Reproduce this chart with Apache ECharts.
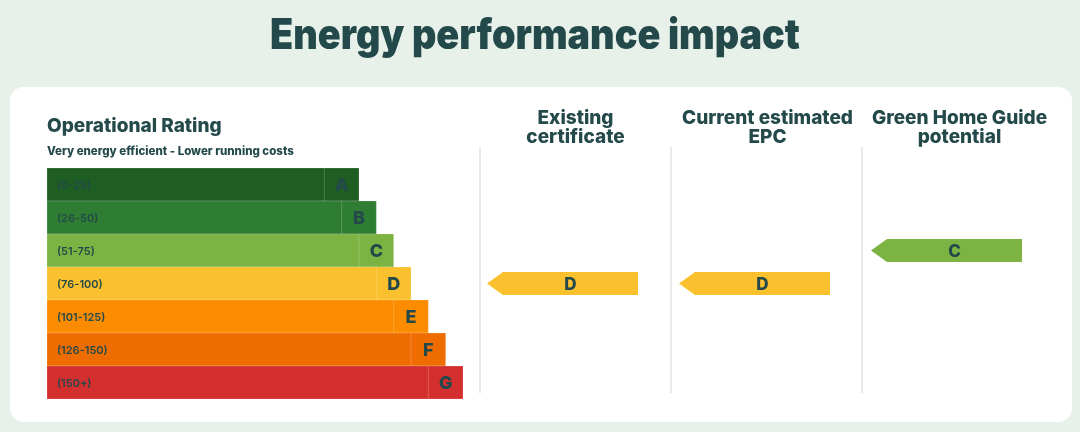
<!DOCTYPE html>
<html>
<head>
<meta charset="utf-8">
<script src="https://cdn.jsdelivr.net/npm/echarts@6/dist/echarts.min.js"></script>
<style>
html,body{margin:0;padding:0;background:#e7f1ea;}
#chart{width:1080px;height:432px;}
</style>
</head>
<body>
<div id="chart"></div>
<script>
// ---- data ----
const chartTitle = 'Energy performance impact';
const ratingTitle = 'Operational Rating';
const ratingSubtitle = 'Very energy efficient - Lower running costs';
const bandLetters = ['A', 'B', 'C', 'D', 'E', 'F', 'G'];
const bandRanges = ['(0-25)', '(26-50)', '(51-75)', '(76-100)', '(101-125)', '(126-150)', '(150+)'];
const bandLengths = [18, 19, 20, 21, 22, 23, 24];
const columnTitles = ['Existing\ncertificate', 'Current estimated\nEPC', 'Green Home Guide\npotential'];
const columnRatings = ['D', 'D', 'C'];

// ---- styles ----
const bandColors = ['#1e5e22', '#2e7d32', '#7cb342', '#fbc02d', '#fb8c00', '#ef6c00', '#d32f2f'];
const ink = '#23494a';
const font = 'Inter';
const letterCellUnits = 2;
const maxUnits = 24;

const chart = echarts.init(document.getElementById('chart'), null, {renderer: 'canvas'});

const colLefts = [487, 679, 871];
const colWidth = 151;
const dividerXs = [480, 671, 862];

const grids = [{left: 47, top: 168, width: 416, height: 231}];
colLefts.forEach(l => grids.push({left: l, top: 168, width: colWidth, height: 231}));

const xAxes = grids.map((g, i) => ({
  type: 'value', gridIndex: i, min: 0, max: i === 0 ? maxUnits : 1, show: false
}));
const yAxes = grids.map((g, i) => ({
  type: 'category', gridIndex: i, data: bandLetters, inverse: true, show: false
}));

const barSeries = {
  type: 'custom',
  xAxisIndex: 0, yAxisIndex: 0,
  data: bandLengths.map((len, i) => [len, i]),
  encode: {x: 0, y: 1},
  renderItem: function (params, api) {
    const len = api.value(0);
    const row = api.value(1);
    const h = api.size([0, 1])[1];
    const s = api.coord([0, row]);
    const e = api.coord([len, row]);
    const d = api.coord([len - letterCellUnits, row]);
    const top = s[1] - h / 2;
    return {
      type: 'group',
      children: [
        {type: 'rect', shape: {x: s[0], y: top, width: e[0] - s[0], height: h},
          style: {fill: bandColors[row], stroke: 'rgba(255,255,255,0.18)', lineWidth: 1}},
        {type: 'line', shape: {x1: d[0], y1: top, x2: d[0], y2: top + h},
          style: {stroke: 'rgba(255,255,255,0.2)', lineWidth: 1}},
        {type: 'text', x: s[0] + 10, y: s[1] + 1,
          style: {text: bandRanges[row], fill: ink, font: '600 11px ' + font, verticalAlign: 'middle', align: 'left'}},
        {type: 'text', x: (d[0] + e[0]) / 2, y: s[1] + 1,
          style: {text: bandLetters[row], fill: ink, font: '800 18px ' + font, verticalAlign: 'middle', align: 'center'}}
      ]
    };
  }
};

const arrowSeries = columnRatings.map((r, ci) => ({
  type: 'custom',
  xAxisIndex: ci + 1, yAxisIndex: ci + 1,
  data: [[0, bandLetters.indexOf(r)]],
  encode: {x: 0, y: 1},
  renderItem: function (params, api) {
    const row = api.value(1);
    const h = api.size([0, 1])[1] * 0.7;
    const s = api.coord([0, row]);
    const e = api.coord([1, row]);
    const tip = 16;
    const cy = s[1];
    return {
      type: 'group',
      children: [
        {type: 'polygon', shape: {points: [[s[0], cy], [s[0] + tip, cy - h / 2], [e[0], cy - h / 2], [e[0], cy + h / 2], [s[0] + tip, cy + h / 2]]},
          style: {fill: bandColors[row]}},
        {type: 'text', x: (s[0] + tip + e[0]) / 2, y: cy + 1,
          style: {text: bandLetters[row], fill: ink, font: '800 17px ' + font, verticalAlign: 'middle', align: 'center'}}
      ]
    };
  }
}));

const graphics = [
  {type: 'rect', shape: {x: 10, y: 87, width: 1062, height: 335, r: 14}, style: {fill: '#ffffff'}, z: -10},
  {type: 'text', x: 535, y: 36, scaleX: 0.9,
    style: {text: chartTitle, fill: ink, font: '900 42px ' + font, align: 'center', verticalAlign: 'middle'}},
  {type: 'text', x: 47, y: 126,
    style: {text: ratingTitle, fill: ink, font: '800 19px ' + font, align: 'left', verticalAlign: 'middle'}},
  {type: 'text', x: 47, y: 152,
    style: {text: ratingSubtitle, fill: ink, font: '800 11.5px ' + font, align: 'left', verticalAlign: 'middle'}}
];
dividerXs.forEach(x => graphics.push({type: 'line', shape: {x1: x, y1: 147, x2: x, y2: 393}, style: {stroke: '#e2e2e2', lineWidth: 1.5}}));
columnTitles.forEach((t, i) => graphics.push({type: 'text', x: colLefts[i] + colWidth / 2 + 13, y: 127.5,
  style: {text: t, fill: ink, font: '800 19px ' + font, align: 'center', verticalAlign: 'middle', lineHeight: 19}}));

chart.setOption({
  backgroundColor: '#e7f1ea',
  animation: false,
  grid: grids,
  xAxis: xAxes,
  yAxis: yAxes,
  graphic: graphics,
  series: [barSeries].concat(arrowSeries)
});
</script>
</body>
</html>
